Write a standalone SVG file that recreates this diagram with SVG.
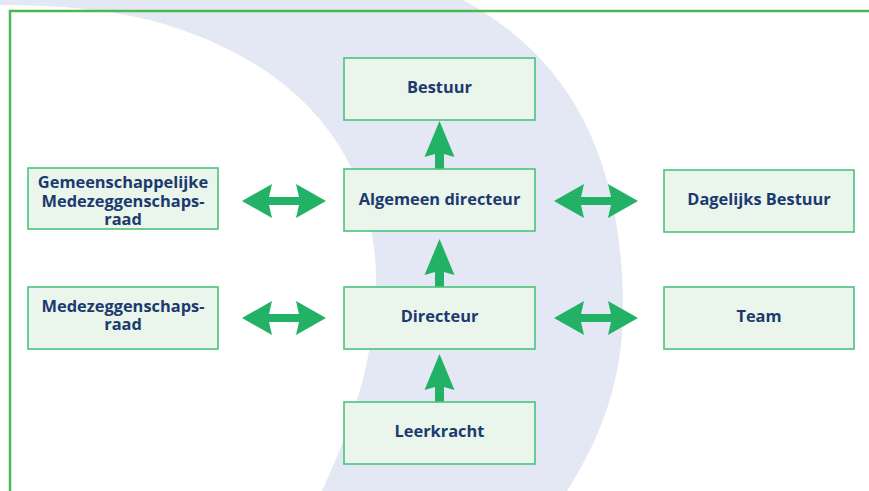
<svg xmlns="http://www.w3.org/2000/svg" width="869" height="491" viewBox="0 0 869 491">
<style>
.box{fill:#eaf5ec;stroke:#4cc27d;stroke-width:1.6}
.lbl{font-family:"Open Sans","Noto Sans",sans-serif;font-weight:700;font-size:16.4px;fill:#1b3a6e;text-anchor:middle}
.arr{fill:#23b265}
</style>
<defs>
<path id="dbl" d="M-42,0 L-12,-17 L-15,-4 L15,-4 L12,-17 L42,0 L12,17 L15,4 L-15,4 L-12,17 Z"/>
<path id="up" d="M0,0 L15,36 L4.5,33 L4.5,48 L-4.5,48 L-4.5,33 L-15,36 Z"/>
</defs>
<rect x="0" y="0" width="869" height="491" fill="#ffffff"/>
<path id="band" fill="#e4e8f5" d="M0,0 L463,0 C565,55 623,150 623,310 C623,380 600,440 567,491 L322,491 C355,420 376,350 376,280 C376,170 315,65 150,20 C100,8 50,5 0,5 Z"/>
<path d="M10,491 L10,11 L869,11" fill="none" stroke="#4db84f" stroke-width="2.5"/>
<g id="connectors" class="arr">
<use href="#up" x="439.5" y="121"/>
<use href="#up" x="439.5" y="239"/>
<use href="#up" x="439.5" y="354"/>
<use href="#dbl" x="284" y="201"/>
<use href="#dbl" x="284" y="318"/>
<use href="#dbl" x="596" y="201"/>
<use href="#dbl" x="596" y="318"/>
</g>
<g id="bestuur"><rect class="box" x="344" y="58" width="191" height="62"/><text class="lbl" x="439.5" y="93">Bestuur</text></g>
<g id="algemeen-directeur"><rect class="box" x="344" y="169" width="191" height="62"/><text class="lbl" x="439.5" y="205">Algemeen directeur</text></g>
<g id="directeur"><rect class="box" x="344" y="287" width="191" height="62"/><text class="lbl" x="439.5" y="322">Directeur</text></g>
<g id="leerkracht"><rect class="box" x="344" y="402" width="191" height="62"/><text class="lbl" x="439.5" y="437">Leerkracht</text></g>
<g id="gmr"><rect class="box" x="28" y="168" width="190" height="61"/><text class="lbl"><tspan x="123" y="188">Gemeenschappelijke</tspan><tspan x="123" y="206.5">Medezeggenschaps-</tspan><tspan x="123" y="225">raad</tspan></text></g>
<g id="mr"><rect class="box" x="28" y="287" width="190" height="62"/><text class="lbl"><tspan x="123" y="312">Medezeggenschaps-</tspan><tspan x="123" y="330">raad</tspan></text></g>
<g id="dagelijks-bestuur"><rect class="box" x="664" y="170" width="190" height="62"/><text class="lbl" x="759" y="205">Dagelijks Bestuur</text></g>
<g id="team"><rect class="box" x="664" y="287" width="190" height="62"/><text class="lbl" x="759" y="322">Team</text></g>
</svg>
